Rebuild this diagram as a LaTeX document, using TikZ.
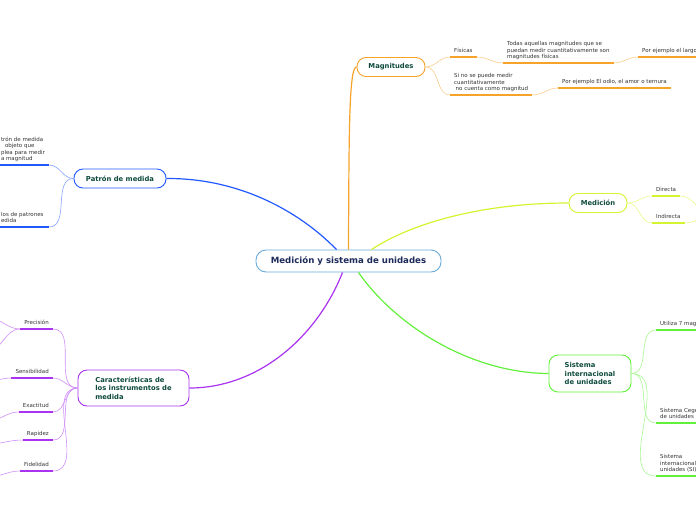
\documentclass[tikz,border=0pt]{standalone}
\usepackage{fontspec}
\setmainfont{DejaVu Sans}

\definecolor{rootc}{HTML}{6AAAD8}
\definecolor{roottxt}{HTML}{1D2B5B}
\definecolor{txtc}{HTML}{0E4A3C}
\definecolor{leafc}{HTML}{333333}
\definecolor{magc}{HTML}{F6A32A}
\definecolor{medc}{HTML}{D2F530}
\definecolor{sisc}{HTML}{62F03A}
\definecolor{carc}{HTML}{A933F0}
\definecolor{patc}{HTML}{2158FF}

\begin{document}
\begin{tikzpicture}[x=1pt,y=-1pt,
  topic/.style={draw=#1, line width=0.9pt, rounded corners=9pt, fill=white, text=txtc,
    font=\bfseries\fontsize{6.8}{8.5}\selectfont, inner xsep=11pt, minimum height=19pt, align=left},
  leaf/.style={font=\fontsize{5.5}{6.6}\selectfont, text=leafc, inner xsep=4pt, inner ysep=2.5pt,
    text depth=1.5pt, align=left},
  branch/.style={draw=#1, line width=1.2pt},
  twig/.style={draw=#1!55, line width=0.6pt},
  uline/.style={draw=#1, line width=2pt}]

\clip (0,0) rectangle (696,520);

% centre
\node[draw=rootc, line width=0.9pt, rounded corners=10pt, fill=white, text=roottxt,
  font=\bfseries\fontsize{8.6}{10}\selectfont, minimum width=185pt, minimum height=22pt]
  (root) at (348.5,261) {Medición y sistema de unidades};

% main topics
\node[topic=magc, minimum width=68pt] (mag) at (391,67) {Magnitudes};
\node[topic=medc, minimum width=58pt] (med) at (598,203) {Medición};
\node[topic=patc, minimum width=92pt] (pat) at (120,178.5) {Patrón de medida};
\node[topic=carc, minimum width=111pt, minimum height=36pt, inner xsep=15pt] (car) at (133.5,388)
  {Características de\\los instrumentos de\\medida};
\node[topic=sisc, minimum width=82pt, minimum height=37pt, inner xsep=15pt] (sis) at (590,373.5)
  {Sistema\\internacional\\de unidades};

\draw[branch=magc] (root.north) .. controls (349,130) and (349,67) .. (mag.west);
\draw[branch=medc] ([xshift=23pt]root.north) .. controls (410,224) and (480,203) .. (med.west);
\draw[branch=patc] ([xshift=-12pt]root.north) .. controls (300,212) and (240,178) .. (pat.east);
\draw[branch=carc] ([xshift=-6pt]root.south) .. controls (318,335) and (260,388) .. (car.east);
\draw[branch=sisc] ([xshift=10pt]root.south) .. controls (395,325) and (470,373) .. (sis.west);

% Magnitudes
\node[leaf, anchor=south west] (fis) at (450,57) {Físicas};
\node[leaf, anchor=south west] (fisdef) at (503,63)
  {Todas aquellas magnitudes que se\\puedan medir cuantitativamente son\\magnitudes físicas};
\node[leaf, anchor=south west] (largo) at (638,57) {Por ejemplo el largo};
\node[leaf, anchor=south west] (nofis) at (450,95)
  {Si no se puede medir\\cuantitativamente\\\hspace*{1.5pt}no cuenta como magnitud};
\node[leaf, anchor=south west] (odio) at (558,88) {Por ejemplo El odio, el amor o ternura};

\foreach \n in {fis,fisdef,largo,nofis,odio}
  \draw[uline=magc] (\n.south west) -- (\n.south east);
\draw[twig=magc] (mag.east) to[out=0,in=180] (fis.south west);
\draw[twig=magc] (mag.east) to[out=0,in=180] (nofis.south west);
\draw[twig=magc] (fis.south east) to[out=0,in=180] (fisdef.south west);
\draw[twig=magc] (fisdef.south east) to[out=0,in=180] (largo.south west);
\draw[twig=magc] (nofis.south east) to[out=0,in=180] (odio.south west);

% Medicion
\node[leaf, anchor=south west] (dir) at (652,196) {Directa};
\node[leaf, anchor=south west] (ind) at (652,223) {Indirecta};
\coordinate (dirx) at (712,214);
\coordinate (indx) at (712,216);

\foreach \n in {dir,ind}
  \draw[uline=medc] (\n.south west) -- (\n.south east);
\draw[twig=medc] (med.east) to[out=0,in=180] (dir.south west);
\draw[twig=medc] (med.east) to[out=0,in=180] (ind.south west);
\draw[twig=medc] (dir.south east) to[out=0,in=180] (dirx);
\draw[twig=medc] (ind.south east) to[out=0,in=180] (indx);

% Sistema internacional
\node[leaf, anchor=south west] (uti) at (656,330) {Utiliza 7 magnitudes};
\node[leaf, anchor=south west] (cgs) at (656,423) {Sistema Cegesimal\\de unidades};
\node[leaf, anchor=south west] (sii) at (656,476) {Sistema\\internacional de\\unidades (SI)};

\foreach \n in {uti,cgs,sii}
  \draw[uline=sisc] (\n.south west) -- (\n.south east);
\foreach \n in {uti,cgs,sii}
  \draw[twig=sisc] (sis.east) to[out=0,in=180] (\n.south west);

% Patron de medida
\node[leaf, anchor=south east] (pat1) at (49,165)
  {trón de medida\\\hspace*{4pt}objeto que\\plea para medir\\a magnitud};
\node[leaf, anchor=south east, minimum width=53pt] (pat2) at (49,227) {los de patrones\\edida};

\foreach \n in {pat1,pat2}
  \draw[uline=patc] (\n.south west) -- (\n.south east);
\foreach \n in {pat1,pat2}
  \draw[twig=patc] (pat.west) to[out=180,in=0] (\n.south east);

% Caracteristicas
\node[leaf, anchor=south east] (pre) at (53,329) {Precisión};
\node[leaf, anchor=south east] (sen) at (53,378) {Sensibilidad};
\node[leaf, anchor=south east] (exa) at (53,412) {Exactitud};
\node[leaf, anchor=south east] (rap) at (53,440) {Rapidez};
\node[leaf, anchor=south east] (fid) at (53,471) {Fidelidad};
\coordinate (pre1) at (-12,318);
\coordinate (pre2) at (-12,350);
\coordinate (senx) at (-12,381);
\coordinate (exax) at (-12,421);
\coordinate (rapx) at (-12,444);
\coordinate (fidx) at (-12,477);

\foreach \n in {pre,sen,exa,rap,fid}
  \draw[uline=carc] (\n.south west) -- (\n.south east);
\foreach \n in {pre,sen,exa,rap,fid}
  \draw[twig=carc] (car.west) to[out=180,in=0] (\n.south east);
\draw[twig=carc] (pre.south west) to[out=180,in=0] (pre1);
\draw[twig=carc] (pre.south west) to[out=180,in=0] (pre2);
\draw[twig=carc] (sen.south west) to[out=180,in=0] (senx);
\draw[twig=carc] (exa.south west) to[out=180,in=0] (exax);
\draw[twig=carc] (rap.south west) to[out=180,in=0] (rapx);
\draw[twig=carc] (fid.south west) to[out=180,in=0] (fidx);
\end{tikzpicture}
\end{document}
